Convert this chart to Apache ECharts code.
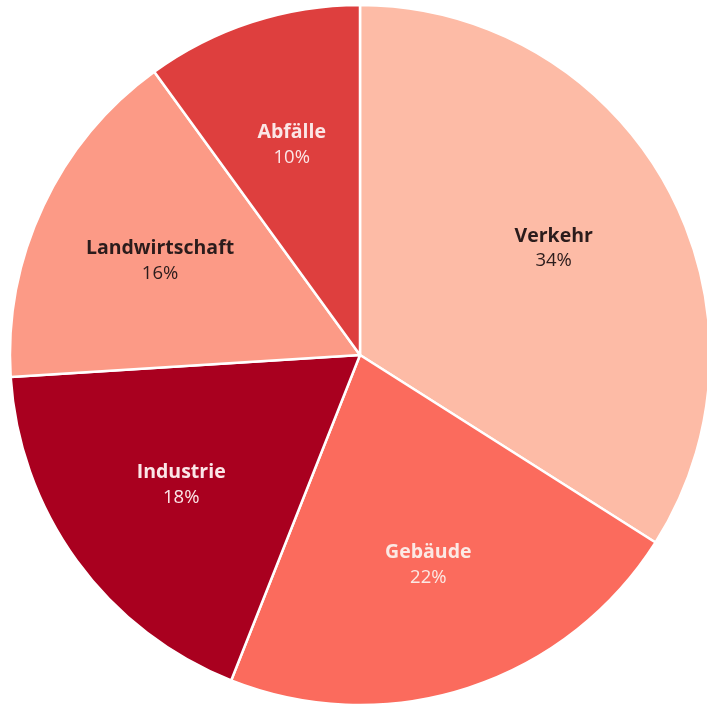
<!DOCTYPE html>
<html><head><meta charset="utf-8">
<script src="https://cdn.jsdelivr.net/npm/echarts@6/dist/echarts.min.js"></script>
<style>html,body{margin:0;padding:0;background:#fff}#c{width:707px;height:704px}</style>
</head><body><div id="c"></div>
<script>
const categories = ['Verkehr', 'Gebäude', 'Industrie', 'Landwirtschaft', 'Abfälle'];
const values = [34, 22, 18, 16, 10];
const colors = ['#fdbba6', '#fb6b5d', '#a9001f', '#fc9a86', '#de3f3e'];
const textColors = ['#2b1c1c', '#fbe9e4', '#fbe6e8', '#2b1c1c', '#fbe6e6'];

const chart = echarts.init(document.getElementById('c'));
const center = [360, 355];
const R = 350;
chart.setOption({
  animation: false,
  series: [
    {
      type: 'pie', center: center, radius: [0, R], startAngle: 90, clockwise: true,
      label: { show: false }, labelLine: { show: false }, silent: true,
      itemStyle: { borderColor: '#fff', borderWidth: 2.5 },
      data: categories.map((n, i) => ({ name: n, value: values[i], itemStyle: { color: colors[i] } }))
    },
    {
      type: 'pie', center: center, radius: [0, 2 * 218], startAngle: 90, clockwise: true,
      silent: true, labelLine: { show: false },
      itemStyle: { color: 'rgba(0,0,0,0)' },
      data: categories.map((n, i) => ({
        name: n, value: values[i],
        label: {
          show: true, position: 'inside',
          formatter: '{n|{b}}\n{p|{c}%}',
          rich: {
            n: { fontFamily: 'Open Sans', fontWeight: 'bold', fontSize: 19.5, color: textColors[i], lineHeight: 25 },
            p: { fontFamily: 'Open Sans', fontSize: 18.5, color: textColors[i], lineHeight: 25 }
          }
        }
      }))
    }
  ]
});
</script></body></html>
